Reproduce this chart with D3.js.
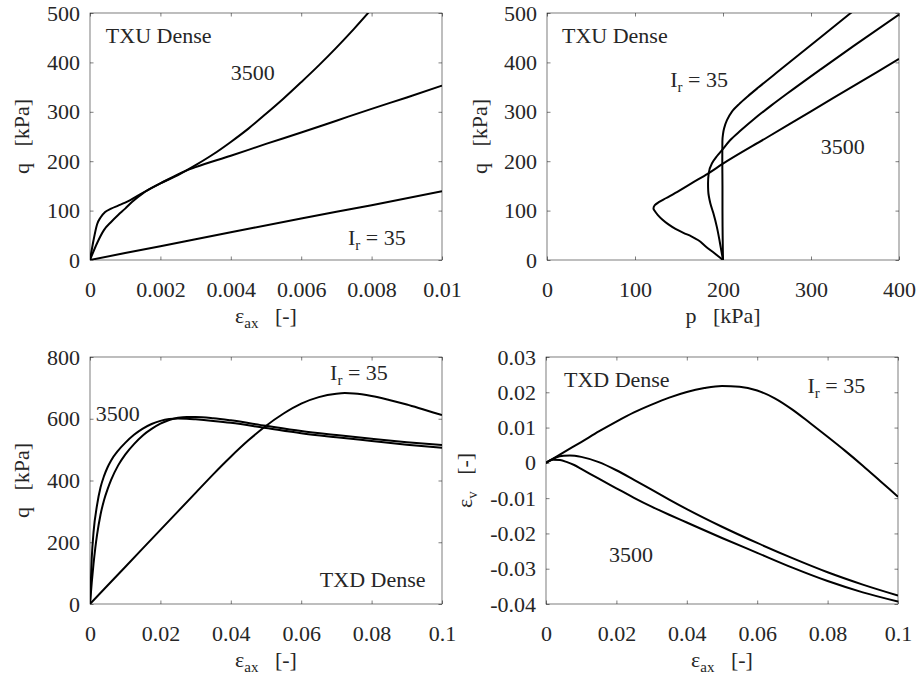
<!DOCTYPE html>
<html>
<head>
<meta charset="utf-8">
<script src="https://cdn.jsdelivr.net/npm/d3@7"></script>
<style>
    body { margin: 0; background: #fff; }
    svg text { font-family: "Liberation Serif", "Times New Roman", serif; fill: #262626; white-space: pre; }
</style>
</head>
<body>
<svg id="chart" width="920" height="681"></svg>
<script>
// ----- TXU Dense, q vs axial strain (upper left)
const txuStrainIr35 = [[0, 0], [0.002, 28], [0.004, 56], [0.006, 84], [0.008, 111], [0.01, 139]];
const txuStrainIr350 = [[0, 0], [0.0001, 40], [0.0002, 72], [0.0003, 86], [0.00043, 97], [0.0006, 104], [0.0008, 110],
    [0.001, 116], [0.0015, 136], [0.002, 155], [0.0027, 180], [0.003, 188], [0.004, 211], [0.005, 235], [0.006, 258],
    [0.007, 282], [0.008, 306], [0.009, 329], [0.01, 353]];
const txuStrainIr3500 = [[0, 0], [0.0002, 34], [0.0004, 61], [0.0006, 77], [0.0008, 91], [0.001, 104], [0.0012, 118],
    [0.0015, 135], [0.002, 155], [0.0025, 172], [0.003, 192], [0.0035, 214], [0.004, 239], [0.0045, 266], [0.005, 296],
    [0.0055, 327], [0.006, 360], [0.0065, 394], [0.007, 430], [0.0075, 468], [0.008, 508]];

// ----- TXU Dense, stress paths p-q (upper right)
const txuPathIr35 = [[200, 0], [199.6, 50], [199.4, 100], [199.4, 150], [199.2, 200], [199.3, 240], [200, 255],
    [201.2, 266], [204.5, 283], [210, 300], [218, 315], [228, 331], [240, 349], [265, 385], [311, 451], [348, 504]];
const txuPathIr350 = [[200, 0], [196.5, 35], [193, 67], [189, 95], [185.6, 115], [183.2, 140], [183, 155], [183.7, 175],
    [187.5, 196], [193, 210], [200.5, 226], [208.3, 243], [220, 262], [235, 285], [255, 313], [273, 337], [311, 386],
    [349, 434], [400, 497]];
const txuPathIr3500 = [[200, 0], [190, 14], [180, 28], [172, 40], [164, 48], [155, 55], [146, 63], [138, 72],
    [131, 82], [126, 91], [122.5, 99], [121, 104.5], [122.5, 111], [127, 117], [135, 125], [150, 140], [165, 156],
    [183, 175], [200, 195], [250, 248], [300, 301], [350, 354], [400, 407]];

// ----- TXD Dense, q vs axial strain (lower left)
const txdStrainIr35 = [[0, 0], [0.01, 120], [0.02, 240], [0.03, 360], [0.035, 420], [0.04, 477], [0.045, 530],
    [0.0493, 571], [0.055, 617], [0.06, 649], [0.065, 670], [0.07, 681], [0.0724, 683], [0.075, 682], [0.08, 674],
    [0.085, 661], [0.09, 646], [0.095, 629], [0.1, 612]];
const txdStrainIr350 = [[0, 0], [0.0005, 70], [0.001, 130], [0.0015, 181], [0.002, 224], [0.003, 290], [0.004, 337],
    [0.005, 372], [0.006, 402], [0.008, 449], [0.01, 484], [0.0125, 518], [0.015, 546], [0.0175, 567], [0.02, 584],
    [0.0225, 596], [0.025, 603], [0.0275, 606], [0.03, 606], [0.035, 602], [0.04, 595], [0.05, 577], [0.06, 560],
    [0.07, 547], [0.08, 535], [0.09, 524], [0.1, 515]];
const txdStrainIr3500 = [[0, 0], [0.0005, 150], [0.001, 232], [0.002, 320], [0.003, 378], [0.004, 415], [0.005, 443],
    [0.006, 465], [0.008, 497], [0.01, 522], [0.0125, 548], [0.015, 568], [0.0175, 583], [0.02, 593], [0.0225, 599],
    [0.025, 601], [0.0275, 600], [0.03, 598], [0.035, 593], [0.04, 587], [0.05, 570], [0.06, 553], [0.07, 540],
    [0.08, 528], [0.09, 516], [0.1, 506]];

// ----- TXD Dense, volumetric strain (lower right)
const txdVolIr35 = [[0, 0], [0.005, 0.003], [0.01, 0.0059], [0.015, 0.0089], [0.02, 0.0117], [0.025, 0.0143],
    [0.03, 0.0165], [0.035, 0.0185], [0.04, 0.0201], [0.045, 0.0212], [0.05, 0.0218], [0.055, 0.0216], [0.06, 0.0205],
    [0.065, 0.0183], [0.07, 0.0151], [0.075, 0.0113], [0.08, 0.0074], [0.085, 0.0034], [0.09, -0.0008],
    [0.095, -0.0052], [0.1, -0.0096]];
const txdVolIr350 = [[0, 0], [0.001, 0.0006], [0.003, 0.0016], [0.005, 0.002], [0.0068, 0.0021], [0.01, 0.0017],
    [0.015, 0.0002], [0.02, -0.0021], [0.025, -0.0048], [0.03, -0.0076], [0.035, -0.0104], [0.04, -0.0131],
    [0.05, -0.0181], [0.06, -0.0227], [0.07, -0.027], [0.08, -0.031], [0.09, -0.0345], [0.1, -0.0376]];
const txdVolIr3500 = [[0, 0], [0.001, 0.0006], [0.002, 0.0009], [0.004, 0.0008], [0.006, 0.0002], [0.008, -0.0006],
    [0.01, -0.0017], [0.015, -0.0045], [0.02, -0.0072], [0.025, -0.0099], [0.03, -0.0124], [0.035, -0.0147],
    [0.04, -0.0169], [0.05, -0.0213], [0.06, -0.0255], [0.07, -0.0297], [0.08, -0.0335], [0.09, -0.0367], [0.1, -0.0393]];

// ----- tick values
const strainTicksSmall = [0, 0.002, 0.004, 0.006, 0.008, 0.01];
const strainTicksLarge = [0, 0.02, 0.04, 0.06, 0.08, 0.1];
const qTicksTxu = [0, 100, 200, 300, 400, 500];
const qTicksTxd = [0, 200, 400, 600, 800];
const pTicks = [0, 100, 200, 300, 400];
const volTicks = [-0.04, -0.03, -0.02, -0.01, 0, 0.01, 0.02, 0.03];

// ----- labels (text parts, sub = subscript)
const epsAxLabel = [{ t: 'ε' }, { t: 'ax', sub: true }, { t: '   [-]' }];
const epsVolLabel = [{ t: 'ε' }, { t: 'v', sub: true }, { t: '   [-]' }];
const qLabel = [{ t: 'q   [kPa]' }];
const pLabel = [{ t: 'p   [kPa]' }];
const irLabel = [{ t: 'I' }, { t: 'r', sub: true }, { t: ' = 35' }];

const plotWidth = 352;
const plotHeight = 247;
const tickLen = 3.5;
const fmt = d => String(+d.toFixed(4));

const panels = [
    {
        left: 90, top: 13, xDomain: [0, 0.01], yDomain: [0, 500],
        xTicks: strainTicksSmall, yTicks: qTicksTxu, xLabel: epsAxLabel, yLabel: qLabel, yLabelOffset: 61,
        series: [txuStrainIr35, txuStrainIr350, txuStrainIr3500], curve: d3.curveMonotoneX,
        notes: [
            { at: [0.00045, 439], parts: [{ t: 'TXU Dense' }] },
            { at: [0.004, 364], parts: [{ t: '3500' }] },
            { at: [0.00733, 30], parts: irLabel },
        ],
    },
    {
        left: 547, top: 13, xDomain: [0, 400], yDomain: [0, 500],
        xTicks: pTicks, yTicks: qTicksTxu, xLabel: pLabel, yLabel: qLabel, yLabelOffset: 60,
        series: [txuPathIr35, txuPathIr350, txuPathIr3500], curve: d3.curveMonotoneY,
        notes: [
            { at: [17, 439], parts: [{ t: 'TXU Dense' }] },
            { at: [140, 350], parts: irLabel },
            { at: [311, 215], parts: [{ t: '3500' }] },
        ],
    },
    {
        left: 90, top: 357, xDomain: [0, 0.1], yDomain: [0, 800],
        xTicks: strainTicksLarge, yTicks: qTicksTxd, xLabel: epsAxLabel, yLabel: qLabel, yLabelOffset: 61,
        series: [txdStrainIr35, txdStrainIr350, txdStrainIr3500], curve: d3.curveMonotoneX,
        notes: [
            { at: [0.0682, 725], parts: irLabel },
            { at: [0.0016, 594], parts: [{ t: '3500' }] },
            { at: [0.0653, 56], parts: [{ t: 'TXD Dense' }] },
        ],
    },
    {
        left: 546, top: 357, xDomain: [0, 0.1], yDomain: [-0.04, 0.03],
        xTicks: strainTicksLarge, yTicks: volTicks, xLabel: epsAxLabel, yLabel: epsVolLabel, yLabelOffset: 74,
        series: [txdVolIr35, txdVolIr350, txdVolIr3500], curve: d3.curveMonotoneX,
        notes: [
            { at: [0.0051, 0.0215], parts: [{ t: 'TXD Dense' }] },
            { at: [0.0743, 0.0198], parts: irLabel },
            { at: [0.0179, -0.0281], parts: [{ t: '3500' }] },
        ],
    },
];

const svg = d3.select('#chart');

// write text parts as tspans, subscripts smaller and lowered
function addParts(text, parts) {
    parts.forEach((part, i) => {
        const prevSub = i > 0 && parts[i - 1].sub;
        text.append('tspan')
            .attr('font-size', part.sub ? 15 : 22)
            .attr('dy', part.sub ? 5 : (prevSub ? -5 : 0))
            .text(part.t);
    });
    return text;
}

function styleAxis(sel) {
    sel.select('.domain').remove();
    sel.selectAll('line').attr('stroke', '#262626').attr('stroke-width', 0.6);
    sel.selectAll('text').attr('font-size', 22).attr('fill', '#262626')
        .attr('font-family', '"Liberation Serif", "Times New Roman", serif');
}

panels.forEach((panel, i) => {
    const x = d3.scaleLinear().domain(panel.xDomain).range([panel.left, panel.left + plotWidth]);
    const y = d3.scaleLinear().domain(panel.yDomain).range([panel.top + plotHeight, panel.top]);
    const g = svg.append('g');

    svg.append('clipPath').attr('id', 'clip' + i)
        .append('rect')
        .attr('x', panel.left).attr('y', panel.top)
        .attr('width', plotWidth).attr('height', plotHeight);

    // ----- axes (ticks inside, mirrored on top and right)
    g.append('g')
        .attr('transform', `translate(0,${panel.top + plotHeight})`)
        .call(d3.axisBottom(x).tickValues(panel.xTicks).tickFormat(fmt).tickSize(-tickLen))
        .call(styleAxis)
        .selectAll('text').attr('y', 37).attr('dy', 0);

    g.append('g')
        .attr('transform', `translate(0,${panel.top})`)
        .call(d3.axisTop(x).tickValues(panel.xTicks).tickFormat('').tickSize(-tickLen))
        .call(styleAxis);

    g.append('g')
        .attr('transform', `translate(${panel.left},0)`)
        .call(d3.axisLeft(y).tickValues(panel.yTicks).tickFormat(fmt).tickSize(-tickLen).tickPadding(10))
        .call(styleAxis);

    g.append('g')
        .attr('transform', `translate(${panel.left + plotWidth},0)`)
        .call(d3.axisRight(y).tickValues(panel.yTicks).tickFormat('').tickSize(-tickLen))
        .call(styleAxis);

    g.append('rect')
        .attr('x', panel.left).attr('y', panel.top)
        .attr('width', plotWidth).attr('height', plotHeight)
        .attr('fill', 'none').attr('stroke', '#262626').attr('stroke-width', 0.6);

    // ----- curves
    const line = d3.line().x(d => x(d[0])).y(d => y(d[1])).curve(panel.curve);

    g.append('g').attr('clip-path', `url(#clip${i})`)
        .selectAll('path')
        .data(panel.series)
        .join('path')
        .attr('d', line)
        .attr('fill', 'none')
        .attr('stroke', '#000')
        .attr('stroke-width', 2)
        .attr('stroke-linejoin', 'round');

    // ----- annotations
    panel.notes.forEach(note => {
        addParts(g.append('text').attr('x', x(note.at[0])).attr('y', y(note.at[1])), note.parts);
    });

    // ----- axis labels
    addParts(g.append('text')
        .attr('x', panel.left + plotWidth / 2)
        .attr('y', panel.top + plotHeight + 63)
        .attr('text-anchor', 'middle'), panel.xLabel);

    const yMid = panel.top + plotHeight / 2;
    const yLabelX = panel.left - panel.yLabelOffset;
    addParts(g.append('text')
        .attr('transform', `translate(${yLabelX},${yMid}) rotate(-90)`)
        .attr('text-anchor', 'middle'), panel.yLabel);
});
</script>
</body>
</html>
